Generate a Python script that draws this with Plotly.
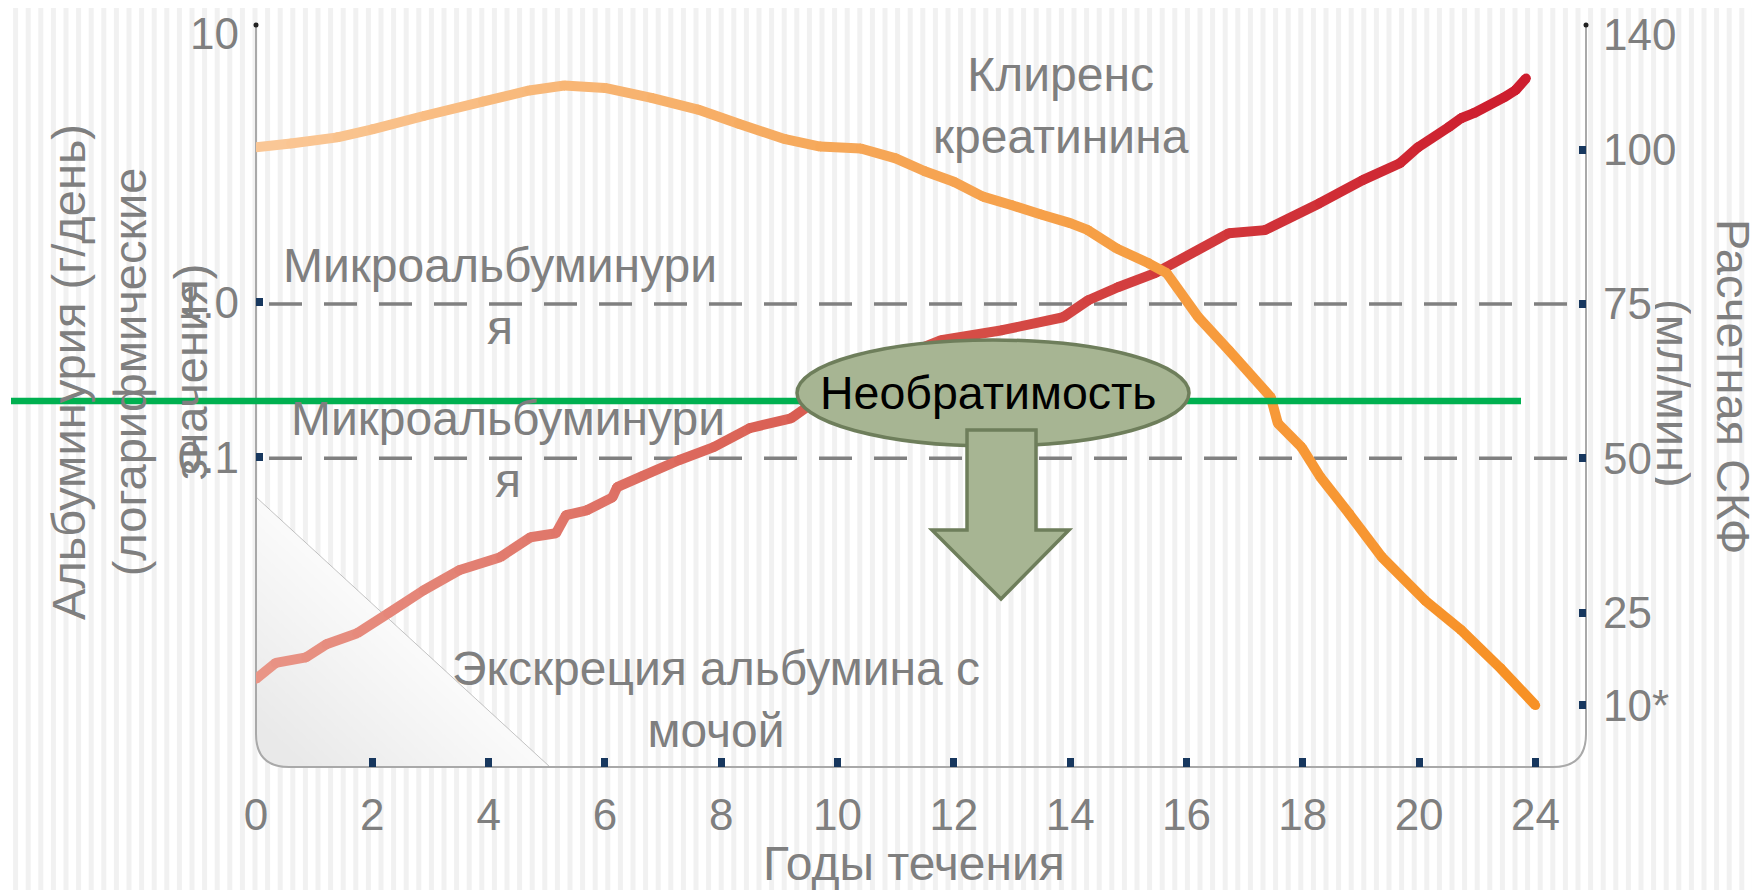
import math
import plotly.graph_objects as go

# ---------------- data ----------------
X_TICK_POS = [0, 2, 4, 6, 8, 10, 12, 14, 16, 18, 20, 22]
X_TICK_LABELS = ["0", "2", "4", "6", "8", "10", "12", "14", "16", "18", "20", "24"]

LEFT_TICK_VALS = [0.1, 1.0, 54]
LEFT_TICK_LABELS = ["0.1", "1.0", "10"]
LEFT_MARK_TICKS = [0.1, 1.0]

RIGHT_TICK_VALS = [10, 25, 50, 75, 100, 118.7]
RIGHT_TICK_LABELS = ["10*", "25", "50", "75", "100", "140"]
RIGHT_MARK_TICKS = [10, 25, 50, 75, 100]

GFR_THRESHOLDS = [75, 50]

# Albuminuria (g/day, log scale) vs course position
ALB_X = [0, 0.34, 0.86, 1.21, 1.74, 2.27, 2.88, 3.49, 4.2, 4.72, 5.16, 5.33, 5.69,
         6.13, 6.21, 6.66, 7.27, 7.87, 8.49, 9.2, 9.69, 10.46, 11.04, 11.78, 12.83,
         13.88, 14.31, 14.82, 15.46, 16.73, 17.35, 18.29, 19.03, 19.67, 19.98, 20.51,
         20.72, 20.94, 21.46, 21.66, 21.84]
ALB_Y = [0.0037, 0.0047, 0.0051, 0.0062, 0.0073, 0.0098, 0.0138, 0.0186, 0.0226,
         0.0304, 0.0323, 0.0422, 0.0454, 0.055, 0.064, 0.076, 0.0955, 0.116, 0.154,
         0.178, 0.24, 0.343, 0.44, 0.569, 0.66, 0.80, 1.03, 1.25, 1.54, 2.79, 2.92,
         4.36, 6.14, 7.89, 10.0, 13.5, 15.4, 16.6, 21.0, 23.4, 27.9]

# Estimated GFR / creatinine clearance (ml/min)
GFR_X = [0, 0.6, 1.4, 2.0, 2.9, 3.9, 4.7, 5.3, 6.0, 6.8, 7.6, 8.3, 9.1, 9.7, 10.4,
         11.0, 11.5, 12.0, 12.5, 13.0, 13.5, 14.0, 14.3, 14.8, 15.35, 15.66, 16.2,
         16.73, 17.45, 17.57, 17.98, 18.3, 18.8, 19.36, 20.1, 20.72, 21.4, 22.0]
GFR_Y = [100.4, 101, 102, 103.3, 105.5, 107.8, 109.6, 110.4, 110, 108.4, 106.5,
         104.2, 101.7, 100.5, 100.2, 98.6, 96.5, 94.8, 92.4, 91, 89.5, 88.1, 87, 84,
         81.6, 80, 72.9, 67.5, 59.9, 55.7, 51.8, 47, 41, 34, 27, 22.2, 16, 10]

# ---------------- geometry helpers (screen pixel -> paper) ----------------
OFF = 8                      # page body margin
W, H = 1760, 890             # screen size
FW, FH = W - OFF, H - OFF    # figure size
L, R_EDGE, T, B_EDGE = 256, 1586, 25, 767   # plot area in screen pixels


def PX(x):
    return (x - L) / (R_EDGE - L)


def PY(y):
    return (B_EDGE - y) / (B_EDGE - T)


GRAY = "#7f7f7f"
NAVY = "#17375e"
FONT = "Liberation Sans, Arial, sans-serif"


def mix(stops, f):
    for (f0, c0), (f1, c1) in zip(stops[:-1], stops[1:]):
        if f <= f1:
            t = (f - f0) / (f1 - f0) if f1 > f0 else 0
            c = [round(a + (b - a) * t) for a, b in zip(c0, c1)]
            return "rgb(%d,%d,%d)" % tuple(c)
    return "rgb(%d,%d,%d)" % tuple(stops[-1][1])


RED_STOPS = [(0, (233, 150, 135)), (0.5, (214, 84, 74)), (1, (205, 28, 45))]
ORANGE_STOPS = [(0, (250, 200, 152)), (0.45, (246, 168, 90)), (1, (247, 144, 36))]

fig = go.Figure()


def add_gradient_line(xs, ys, stops, yaxis):
    xmax = max(xs)
    for i in range(len(xs) - 1):
        col = mix(stops, (xs[i] + xs[i + 1]) / 2 / xmax)
        fig.add_trace(go.Scatter(
            x=xs[i:i + 2], y=ys[i:i + 2], mode="lines+markers", yaxis=yaxis,
            line=dict(color=col, width=10),
            marker=dict(color=col, size=9.5, line=dict(width=0)),
            hoverinfo="skip", showlegend=False))


add_gradient_line(ALB_X, ALB_Y, RED_STOPS, "y")
add_gradient_line(GFR_X, GFR_Y, ORANGE_STOPS, "y2")

shapes = []

# background stripes
stripe_path = " ".join(
    "M%.5f,%.5f L%.5f,%.5f" % (PX(x), PY(0), PX(x), PY(H))
    for x in [3 + 12.6 * k for k in range(int(W / 12.6) + 1)])
shapes.append(dict(type="path", path=stripe_path, xref="paper", yref="paper",
                   line=dict(color="#f1f1f1", width=5), layer="below"))

# gradient triangle at bottom-left
r = 33


def tri_path(k):
    top = B_EDGE - 270 * k
    right = L + 294 * k
    return ("M%.5f,%.5f L%.5f,%.5f Q%.5f,%.5f %.5f,%.5f L%.5f,%.5f Z" % (
        PX(L), PY(top), PX(L), PY(B_EDGE - r), PX(L), PY(B_EDGE),
        PX(L + r), PY(B_EDGE), PX(right), PY(B_EDGE)))


shapes.append(dict(type="path", path=tri_path(1.0), xref="paper", yref="paper",
                   fillcolor="#fbfbfb", line=dict(width=0), layer="below"))
n_layers = 18
for j in range(n_layers):
    k = 1.0 - j * (0.86 / n_layers)
    shapes.append(dict(type="path", path=tri_path(k), xref="paper", yref="paper",
                       fillcolor="rgba(140,141,146,0.013)",
                       line=dict(width=0), layer="below"))
shapes.append(dict(type="line", xref="paper", yref="paper",
                   x0=PX(L), y0=PY(B_EDGE - 270), x1=PX(L + 294), y1=PY(B_EDGE),
                   line=dict(color="rgba(110,110,110,0.4)", width=1), layer="below"))

# axis frame with rounded corners
frame = ("M%.5f,%.5f L%.5f,%.5f Q%.5f,%.5f %.5f,%.5f L%.5f,%.5f Q%.5f,%.5f %.5f,%.5f L%.5f,%.5f" % (
    PX(L), PY(T), PX(L), PY(B_EDGE - r), PX(L), PY(B_EDGE), PX(L + r), PY(B_EDGE),
    PX(R_EDGE - r), PY(B_EDGE), PX(R_EDGE), PY(B_EDGE), PX(R_EDGE), PY(B_EDGE - r),
    PX(R_EDGE), PY(T)))
shapes.append(dict(type="path", path=frame, xref="paper", yref="paper",
                   line=dict(color="#a9a9a9", width=2), layer="below"))
for xx in (L, R_EDGE):
    shapes.append(dict(type="circle", xref="paper", yref="paper",
                       x0=PX(xx - 2.5), x1=PX(xx + 2.5), y0=PY(T + 2.5), y1=PY(T - 2.5),
                       fillcolor="#222222", line=dict(width=0), layer="below"))

# dashed threshold lines
for v in GFR_THRESHOLDS:
    shapes.append(dict(type="line", xref="paper", yref="y2",
                       x0=PX(269), x1=PX(1577), y0=v, y1=v,
                       line=dict(color="#808080", width=3.5, dash="33px,22px"),
                       layer="below"))

# green line
shapes.append(dict(type="line", xref="paper", yref="paper",
                   x0=PX(11), x1=PX(1521), y0=PY(401), y1=PY(401),
                   line=dict(color="#00b050", width=6.5), layer="above"))

# ellipse and arrow
OLIVE = "#a7b593"
OLIVE_LINE = "#6e7e5b"
shapes.append(dict(type="circle", xref="paper", yref="paper",
                   x0=PX(797), x1=PX(1189), y0=PY(446), y1=PY(340),
                   fillcolor=OLIVE, line=dict(color=OLIVE_LINE, width=3.5), layer="above"))
arrow_pts = [(967, 430), (1036, 430), (1036, 530), (1069, 530), (1001, 599),
             (932, 530), (967, 530)]
arrow_path = "M" + " L".join("%.5f,%.5f" % (PX(a), PY(b)) for a, b in arrow_pts) + " Z"
shapes.append(dict(type="path", path=arrow_path, xref="paper", yref="paper",
                   fillcolor=OLIVE, line=dict(color=OLIVE_LINE, width=3.5), layer="above"))

annotations = []


def text(t, x, y, size=48, color=GRAY, angle=0, box_h=None):
    a = dict(text=t, x=PX(x), y=PY(y), xref="paper", yref="paper",
             showarrow=False, xanchor="center", yanchor="middle",
             align="center", textangle=angle,
             font=dict(family=FONT, size=size, color=color))
    if box_h is not None:
        a["height"] = box_h
    annotations.append(a)


text("Клиренс<br>креатинина", 1061, 106)
text("Микроальбуминури<br>я", 500, 296)
text("Микроальбуминури<br>я", 508, 449)
text("Экскреция альбумина с<br>мочой", 716, 699)
text("Годы течения", 914, 863)
text("Необратимость", 988, 393, size=46.5, color="#000000")
text("Альбуминурия (г/день)<br>(логарифмические<br>значения)", 129, 372, size=47, angle=-90)
text("Расчетная СКФ", 1733, 387, size=47, angle=90, box_h=36)
text("(мл/мин)", 1673, 393, size=47, angle=90, box_h=36)

tickfont = dict(family=FONT, size=44, color=GRAY)

fig.update_layout(
    width=FW, height=FH,
    margin=dict(l=L - OFF, r=FW - (R_EDGE - OFF), t=T - OFF, b=FH - (B_EDGE - OFF),
                pad=0, autoexpand=False),
    paper_bgcolor="#ffffff", plot_bgcolor="rgba(0,0,0,0)",
    showlegend=False,
    shapes=shapes, annotations=annotations,
    xaxis=dict(range=[0, 22.87], tickmode="array", tickvals=X_TICK_POS,
               ticktext=X_TICK_LABELS, ticks="", showline=False, showgrid=False,
               zeroline=False, tickfont=tickfont, ticklabelstandoff=18,
               ticklabeloverflow="allow", automargin=False,
               minor=dict(tickmode="array", tickvals=X_TICK_POS[1:], ticks="inside",
                          ticklen=9, tickwidth=7, tickcolor=NAVY, showgrid=False)),
    yaxis=dict(type="log", range=[-3, math.log10(61.6)], tickmode="array",
               tickvals=LEFT_TICK_VALS, ticktext=LEFT_TICK_LABELS, ticks="",
               showline=False, showgrid=False, zeroline=False, tickfont=tickfont,
               ticklabelstandoff=16, ticklabeloverflow="allow", automargin=False,
               minor=dict(tickmode="array", tickvals=LEFT_MARK_TICKS, ticks="inside",
                          ticklen=7, tickwidth=8, tickcolor=NAVY, showgrid=False)),
    yaxis2=dict(overlaying="y", side="right", range=[0, 120.2], tickmode="array",
                tickvals=RIGHT_TICK_VALS, ticktext=RIGHT_TICK_LABELS, ticks="",
                showline=False, showgrid=False, zeroline=False, tickfont=tickfont,
                ticklabelstandoff=16, ticklabeloverflow="allow", automargin=False,
                minor=dict(tickmode="array", tickvals=RIGHT_MARK_TICKS, ticks="inside",
                           ticklen=7, tickwidth=8, tickcolor=NAVY, showgrid=False)),
)

fig.write_html("out.html")
